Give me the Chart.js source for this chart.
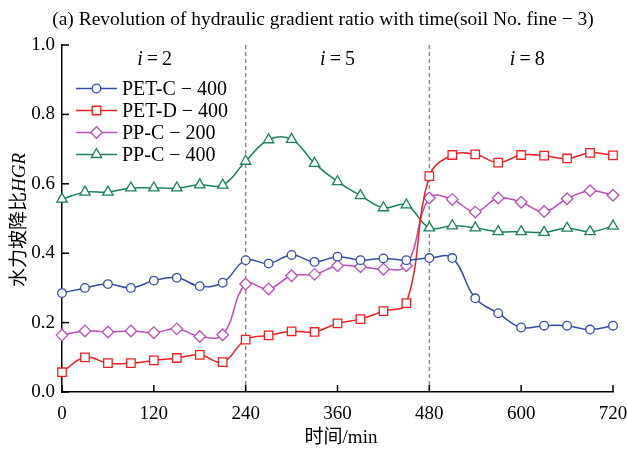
<!DOCTYPE html>
<html>
<head>
<meta charset="utf-8">
<script src="https://cdn.jsdelivr.net/npm/chart.js@4.4.0/dist/chart.umd.min.js"></script>
<style>
  html, body { margin: 0; padding: 0; background: #fff; }
  #wrap { width: 627px; height: 450px; }
</style>
</head>
<body>
<div id="wrap"><canvas id="hgrChart"></canvas></div>
<script>
const timeMin = [0,30,60,90,120,150,180,210,240,270,300,330,360,390,420,450,480,510,540,570,600,630,660,690,720];
const petC400 = [0.285,0.300,0.311,0.300,0.321,0.329,0.305,0.315,0.380,0.370,0.395,0.375,0.390,0.380,0.385,0.380,0.386,0.386,0.270,0.227,0.186,0.191,0.191,0.180,0.191];
const petD400 = [0.057,0.100,0.083,0.083,0.091,0.098,0.107,0.086,0.151,0.163,0.175,0.173,0.198,0.210,0.233,0.256,0.622,0.683,0.685,0.661,0.683,0.681,0.673,0.689,0.682];
const ppC200 = [0.164,0.176,0.173,0.176,0.171,0.182,0.160,0.165,0.311,0.297,0.335,0.339,0.364,0.361,0.354,0.364,0.559,0.555,0.519,0.559,0.547,0.520,0.557,0.580,0.567];
const ppC400 = [0.556,0.576,0.576,0.588,0.588,0.588,0.597,0.596,0.665,0.727,0.728,0.659,0.606,0.566,0.531,0.539,0.473,0.479,0.473,0.462,0.462,0.460,0.472,0.462,0.478];
const xTicks = [0,120,240,360,480,600,720];
const yTicks = [0.0,0.2,0.4,0.6,0.8,1.0];
const stageBounds = [240,480];
const stageLabels = [{t:121,n:'2'},{t:360,n:'5'},{t:608,n:'8'}];
const titleText = '(a) Revolution of hydraulic gradient ratio with time(soil No. fine − 3)';

const serif = '"Liberation Serif", "Times New Roman", "Noto Sans CJK SC", serif';

function series(label, values, color, style, radius) {
  return {
    label: label,
    data: values.map((v, i) => ({x: timeMin[i], y: v})),
    borderColor: color,
    backgroundColor: color,
    pointBorderColor: color,
    pointBackgroundColor: '#fff',
    pointStyle: style,
    pointRadius: radius,
    pointHoverRadius: radius,
    pointBorderWidth: 1.3,
    borderWidth: 1.5,
    tension: 0.4,
    clip: false
  };
}

const decor = {
  id: 'decor',
  beforeDatasetsDraw(chart) {
    const {ctx, chartArea, scales} = chart;
    ctx.save();
    ctx.strokeStyle = '#8a8a8a';
    ctx.lineWidth = 1.5;
    ctx.setLineDash([4, 3]);
    stageBounds.forEach(t => {
      const x = scales.x.getPixelForValue(t);
      ctx.beginPath();
      ctx.moveTo(x, chartArea.top);
      ctx.lineTo(x, chartArea.bottom);
      ctx.stroke();
    });
    ctx.restore();
  },
  afterDraw(chart) {
    const {ctx, chartArea, scales} = chart;
    ctx.save();
    ctx.fillStyle = '#000';
    ctx.textBaseline = 'middle';

    // title
    ctx.font = '19.5px ' + serif;
    ctx.textAlign = 'center';
    ctx.fillText(titleText, 323, 20);

    // inward ticks
    ctx.strokeStyle = '#000';
    ctx.lineWidth = 1.5;
    xTicks.forEach(t => {
      const x = scales.x.getPixelForValue(t);
      ctx.beginPath();
      ctx.moveTo(x, chartArea.bottom);
      ctx.lineTo(x, chartArea.bottom - 7);
      ctx.stroke();
    });
    yTicks.forEach(v => {
      const y = scales.y.getPixelForValue(v);
      ctx.beginPath();
      ctx.moveTo(chartArea.left, y);
      ctx.lineTo(chartArea.left + 7, y);
      ctx.stroke();
    });

    // stage labels
    stageLabels.forEach(s => {
      const cx = scales.x.getPixelForValue(s.t);
      const y = chartArea.top + 15;
      ctx.font = 'italic 20px ' + serif;
      const wi = ctx.measureText('i').width;
      ctx.font = '20px ' + serif;
      const rest = '\u2009=\u2009' + s.n;
      const wr = ctx.measureText(rest).width;
      const x0 = cx - (wi + wr) / 2;
      ctx.textAlign = 'left';
      ctx.font = 'italic 20px ' + serif;
      ctx.fillText('i', x0, y);
      ctx.font = '20px ' + serif;
      ctx.fillText(rest, x0 + wi, y);
    });

    // legend
    chart.data.datasets.forEach((ds, i) => {
      const y = 88.5 + i * 22;
      const x0 = chartArea.left + 14, x1 = x0 + 41;
      ctx.strokeStyle = ds.borderColor;
      ctx.lineWidth = ds.borderWidth;
      ctx.beginPath();
      ctx.moveTo(x0, y);
      ctx.lineTo(x1, y);
      ctx.stroke();
      ctx.fillStyle = '#fff';
      ctx.lineWidth = ds.pointBorderWidth;
      Chart.helpers.drawPoint(ctx, {pointStyle: ds.pointStyle, radius: ds.pointRadius, borderWidth: ds.pointBorderWidth}, (x0 + x1) / 2, y);
      ctx.fillStyle = '#000';
      ctx.font = '20px ' + serif;
      ctx.textAlign = 'left';
      ctx.fillText(ds.label, x1 + 5, y + 1);
    });

    // x axis title
    ctx.font = '19px ' + serif;
    ctx.textAlign = 'center';
    ctx.fillText('时间/min', 341, 438);

    // y axis title with italic HGR
    ctx.translate(20, 220);
    ctx.rotate(-Math.PI / 2);
    ctx.font = '19px ' + serif;
    const cn = '水力坡降比';
    const wc = ctx.measureText(cn).width;
    ctx.font = 'italic 19px ' + serif;
    const wh = ctx.measureText('HGR').width;
    const sx = -(wc + wh) / 2;
    ctx.textAlign = 'left';
    ctx.font = '19px ' + serif;
    ctx.fillText(cn, sx, 0);
    ctx.font = 'italic 19px ' + serif;
    ctx.fillText('HGR', sx + wc, 0);
    ctx.restore();
  }
};

new Chart(document.getElementById('hgrChart'), {
  type: 'line',
  data: {
    datasets: [
      series('PET-C − 400', petC400, 'rgb(52,78,165)', 'circle', 4.3),
      series('PET-D − 400', petD400, 'rgb(240,32,32)', 'rect', 6),
      series('PP-C − 200', ppC200, 'rgb(185,80,185)', 'rectRot', 5.8),
      series('PP-C − 400', ppC400, 'rgb(28,130,88)', 'triangle', 6)
    ]
  },
  options: {
    responsive: true,
    maintainAspectRatio: false,
    animation: false,
    layout: { padding: { left: 0, right: 0, top: 45, bottom: 0 } },
    plugins: {
      legend: { display: false },
      tooltip: { enabled: false },
      title: { display: false }
    },
    scales: {
      x: {
        type: 'linear',
        min: 0,
        max: 720,
        afterBuildTicks: s => { s.ticks = xTicks.map(v => ({value: v})); },
        afterFit: s => { s.height = 58; s.paddingRight = 14; s.paddingLeft = 0; },
        grid: { display: false, drawTicks: false },
        border: { color: '#000', width: 1.5 },
        ticks: { color: '#000', padding: 11, maxRotation: 0, font: { family: serif, size: 19 } }
      },
      y: {
        min: 0,
        max: 1,
        afterBuildTicks: s => { s.ticks = yTicks.map(v => ({value: v})); },
        afterFit: s => { s.width = 62; },
        grid: { display: false, drawTicks: false },
        border: { color: '#000', width: 1.5 },
        ticks: { color: '#000', padding: 7, font: { family: serif, size: 19 }, callback: v => v.toFixed(1) }
      }
    }
  },
  plugins: [decor]
});
</script>
</body>
</html>
